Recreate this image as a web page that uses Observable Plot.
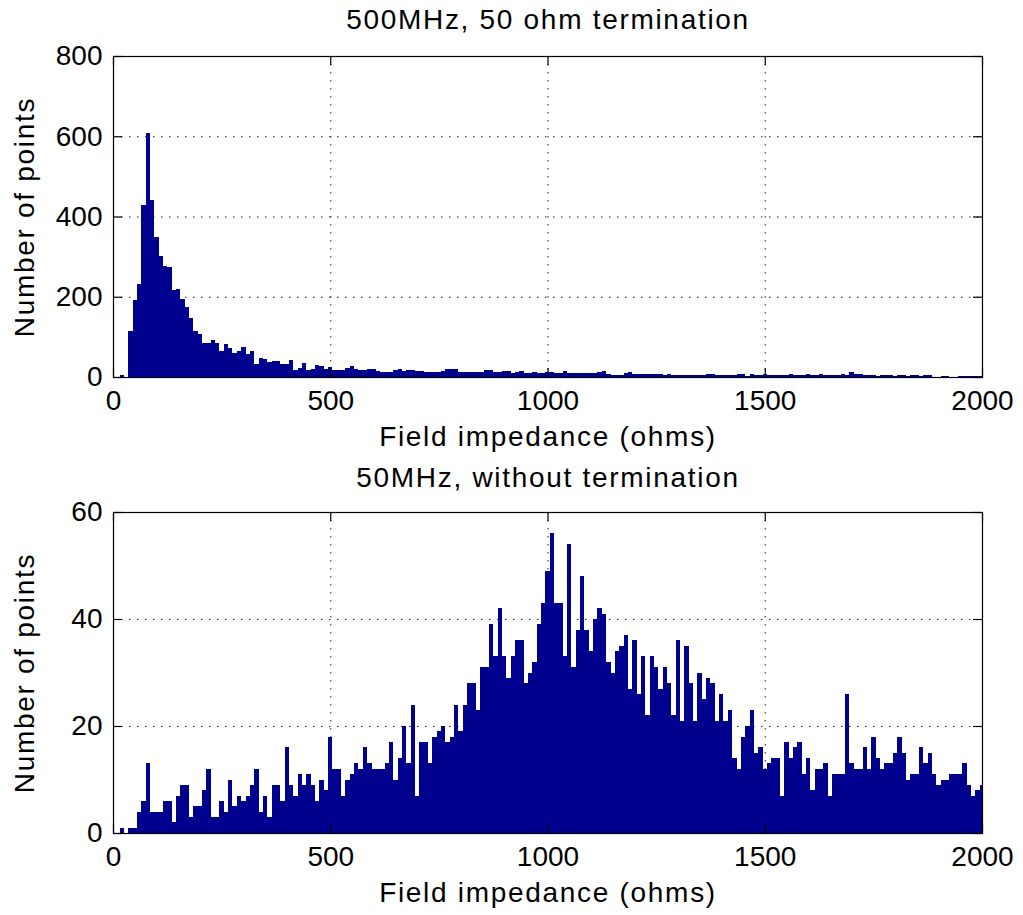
<!DOCTYPE html>
<html><head><meta charset="utf-8">
<script src="https://cdn.jsdelivr.net/npm/d3@7"></script>
<script src="https://cdn.jsdelivr.net/npm/@observablehq/plot@0.6"></script>
<style>
body{margin:0;background:#fff;}
#chart{width:1023px;}
#chart svg{display:block;}
#chart svg g[aria-label="text"] text{letter-spacing:1.7px;}
</style></head><body><div id="chart"></div>
<script>
// Histogram bins: centers every 10 ohms from 0 to 2000
const binWidth = 10;
const binCenters = d3.range(0, 2001, binWidth);
const topTitle = "500MHz, 50 ohm termination";
const bottomTitle = "50MHz, without termination";
const xLabel = "Field impedance (ohms)";
const yLabel = "Number of points";
const xTicks = [0, 500, 1000, 1500, 2000];
const topYTicks = [0, 200, 400, 600, 800];
const bottomYTicks = [0, 20, 40, 60];

// 500MHz, 50 ohm termination — counts per bin
const topCounts = [
  0,0,5,0,114,193,233,428,608,440,
  349,301,277,275,218,220,195,175,147,114,
  108,85,85,91,85,64,81,72,61,64,
  75,58,65,33,47,45,37,40,40,33,
  33,42,17,23,35,18,20,30,28,21,
  26,17,17,17,22,28,21,17,17,20,
  20,15,13,13,13,18,21,15,17,17,
  15,15,13,13,13,13,16,21,19,19,
  13,13,13,13,13,12,17,17,13,13,
  15,15,11,13,15,11,11,13,11,11,
  12,13,11,11,15,10,10,9,9,9,
  9,9,12,15,8,5,5,5,10,13,
  7,7,8,8,8,8,8,4,8,4,
  4,4,4,4,4,4,5,8,8,4,
  4,4,4,6,8,8,3,8,4,4,
  8,4,4,4,4,6,8,4,4,6,
  8,4,5,8,4,4,4,5,8,4,
  12,7,8,4,4,4,3,5,4,4,
  3,4,5,3,4,4,3,4,4,0,
  1,3,3,1,1,3,3,2,2,2,
  2
];

// 50MHz, without termination — counts per bin
const bottomCounts = [
  0,0,1,0,1,1,4,6,13,4,
  4,4,6,6,2,7,9,9,3,5,
  5,8,12,3,3,6,4,10,5,7,
  6,7,9,12,4,7,3,9,9,6,
  16,9,7,11,9,11,9,6,10,8,
  18,12,12,7,10,11,13,12,16,13,
  12,12,12,13,17,10,14,20,13,24,
  7,17,17,13,18,19,20,17,18,24,
  19,24,28,28,23,31,31,39,33,42,
  33,29,33,36,36,28,30,32,39,43,
  49,56,43,43,33,54,31,38,48,38,
  34,40,42,41,32,30,34,35,37,27,
  36,26,33,22,33,31,27,31,28,22,
  36,21,35,28,21,30,25,29,28,21,
  26,21,23,14,12,18,20,23,15,16,
  12,13,14,14,7,17,14,16,17,11,
  14,8,12,12,13,7,11,11,11,26,
  13,12,12,16,12,18,14,12,13,13,
  15,18,15,10,11,11,16,13,15,11,
  9,10,10,11,11,11,13,9,7,8,
  9
];

const barColor = "#00008f";
const font = "'Liberation Sans', Arial, Helvetica, sans-serif";
const W = 1023;

function panel({counts, title, yTicks, yMax, height, marginTop, marginBottom, titleDy}) {
  const marginLeft = 113, marginRight = 41;
  const innerH = height - marginTop - marginBottom;
  const innerW = W - marginLeft - marginRight;
  const tickLen = 9;
  const data = binCenters.map((c, i) => ({
    x1: Math.max(c - binWidth / 2, 0),
    x2: Math.min(c + binWidth / 2, 2000),
    n: counts[i]
  }));
  return Plot.plot({
    width: W, height, marginTop, marginBottom, marginLeft, marginRight,
    style: {fontFamily: font, fontSize: "28px", background: "white", color: "black", overflow: "visible"},
    x: {domain: [0, 2000], ticks: xTicks, tickSize: 0, tickPadding: 13, label: null, tickFormat: d => String(d)},
    y: {domain: [0, yMax], ticks: yTicks, tickSize: 0, tickPadding: 11, label: null, tickFormat: d => String(d)},
    marks: [
      Plot.ruleX(xTicks.slice(1, -1), {x: d => d, stroke: "#222", strokeDasharray: "1.5,6.5", strokeWidth: 1}),
      Plot.ruleY(yTicks.slice(1, -1), {y: d => d, stroke: "#222", strokeDasharray: "1.5,6.5", strokeWidth: 1}),
      Plot.rectY(data, {x1: "x1", x2: "x2", y: "n", fill: barColor, shapeRendering: "crispEdges"}),
      Plot.frame({stroke: "black", strokeWidth: 1.2}),
      Plot.tickX(xTicks, {x: d => d, stroke: "black", strokeWidth: 1.2, insetTop: innerH - tickLen}),
      Plot.tickX(xTicks, {x: d => d, stroke: "black", strokeWidth: 1.2, insetBottom: innerH - tickLen}),
      Plot.tickY(yTicks, {y: d => d, stroke: "black", strokeWidth: 1.2, insetRight: innerW - tickLen}),
      Plot.tickY(yTicks, {y: d => d, stroke: "black", strokeWidth: 1.2, insetLeft: innerW - tickLen}),
      Plot.text([title], {text: d => d, frameAnchor: "top", dy: titleDy, fontSize: 28, lineAnchor: "middle", textAnchor: "middle", fill: "black"}),
      Plot.text([xLabel], {text: d => d, frameAnchor: "bottom", dy: 60, fontSize: 28, lineAnchor: "middle", textAnchor: "middle", fill: "black"}),
      Plot.text([yLabel], {text: d => d, frameAnchor: "left", dx: -88, rotate: -90, fontSize: 28, lineAnchor: "middle", textAnchor: "middle", fill: "black"})
    ]
  });
}

const chart = document.getElementById("chart");
chart.appendChild(panel({counts: topCounts, title: topTitle, yTicks: topYTicks, yMax: 800,
  height: 457, marginTop: 56, marginBottom: 80, titleDy: -36}));
chart.appendChild(panel({counts: bottomCounts, title: bottomTitle, yTicks: bottomYTicks, yMax: 60,
  height: 458, marginTop: 55, marginBottom: 82, titleDy: -34}));
</script>
</body></html>
